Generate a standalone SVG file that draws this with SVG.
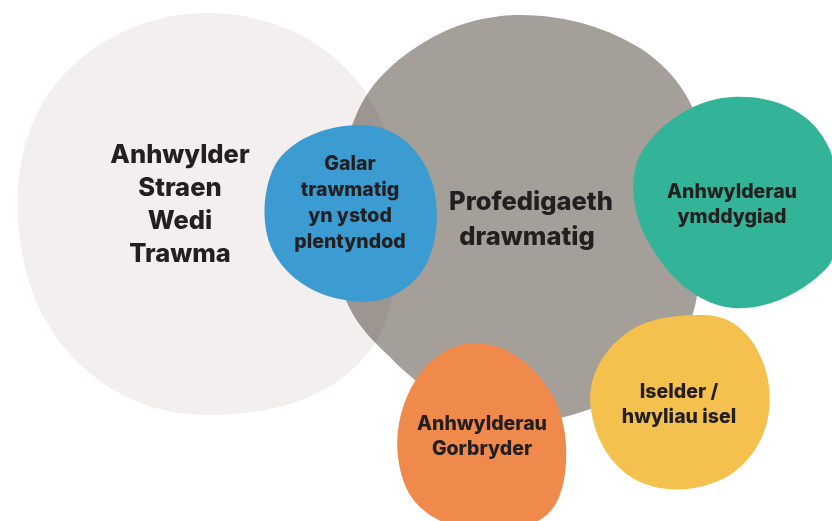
<svg xmlns="http://www.w3.org/2000/svg" width="832" height="521" viewBox="0 0 832 521">
  <style>
    .lbl { font-family: Inter, "Open Sans", "Liberation Sans", sans-serif; font-weight: 800; fill: #231f20; text-anchor: middle; }
    .big { font-size: 25.5px; }
    .small { font-size: 19.5px; }
  </style>
  <rect width="832" height="521" fill="#ffffff"/>

  <!-- central bereavement blob -->
  <g id="profedigaeth">
    <path fill="#a59f9a" d="M 520 15 C 570 15, 610 30, 640 48 C 670 68, 692 95, 700 130 C 708 180, 702 250, 697 295 C 690 350, 640 400, 560 418 C 490 430, 430 400, 390 357 C 355 325, 338 300, 337 250 C 336 180, 345 125, 370 90 C 395 55, 440 30, 470 22 C 490 17, 505 15, 520 15 Z"/>
    <text class="lbl big" x="531" y="210">Profedigaeth</text>
    <text class="lbl big" x="527" y="245">drawmatig</text>
  </g>

  <!-- PTSD blob, blended over the central one -->
  <g id="anhwylder-straen">
    <path fill="#f2efee" style="mix-blend-mode:multiply" d="M 207 13 C 290 13, 360 60, 385 130 C 405 190, 405 280, 380 335 C 345 395, 280 415, 207 415 C 130 415, 70 370, 40 310 C 15 260, 10 180, 30 130 C 55 60, 130 13, 207 13 Z"/>
    <text class="lbl big" x="180" y="163">Anhwylder</text>
    <text class="lbl big" x="180" y="196">Straen</text>
    <text class="lbl big" x="180" y="229">Wedi</text>
    <text class="lbl big" x="180" y="262">Trawma</text>
  </g>

  <g id="galar">
    <path fill="#3c9bd0" d="M 360 125 C 400 125, 425 155, 433 185 C 442 220, 435 260, 415 280 C 395 300, 370 305, 345 300 C 315 295, 290 280, 275 255 C 260 230, 262 190, 275 165 C 290 140, 325 125, 360 125 Z"/>
    <text class="lbl small" x="350" y="170">Galar</text>
    <text class="lbl small" x="350" y="196">trawmatig</text>
    <text class="lbl small" x="350" y="222">yn ystod</text>
    <text class="lbl small" x="350" y="248">plentyndod</text>
  </g>

  <g id="ymddygiad">
    <path fill="#33b398" d="M 733 97 C 780 95, 815 115, 830 150 C 845 190, 845 250, 825 270 C 800 295, 765 310, 733 308 C 700 305, 670 280, 650 245 C 632 215, 628 180, 640 155 C 660 120, 700 98, 733 97 Z"/>
    <text class="lbl small" x="732" y="198">Anhwylderau</text>
    <text class="lbl small" x="732" y="223">ymddygiad</text>
  </g>

  <g id="gorbryder">
    <path fill="#f08a4c" d="M 475 343 C 510 343, 540 370, 555 400 C 570 430, 570 480, 555 505 C 540 530, 500 535, 470 530 C 440 525, 415 510, 405 485 C 393 455, 395 420, 410 390 C 425 360, 450 343, 475 343 Z"/>
    <text class="lbl small" x="482" y="430">Anhwylderau</text>
    <text class="lbl small" x="482" y="455">Gorbryder</text>
  </g>

  <g id="iselder">
    <path fill="#f5c14e" d="M 700 315 C 735 313, 760 340, 768 380 C 775 420, 760 455, 730 475 C 705 490, 670 495, 640 482 C 610 468, 592 435, 590 400 C 590 365, 615 335, 645 323 C 665 316, 685 315, 700 315 Z"/>
    <text class="lbl small" x="679" y="398">Iselder /</text>
    <text class="lbl small" x="679" y="423">hwyliau isel</text>
  </g>
</svg>
